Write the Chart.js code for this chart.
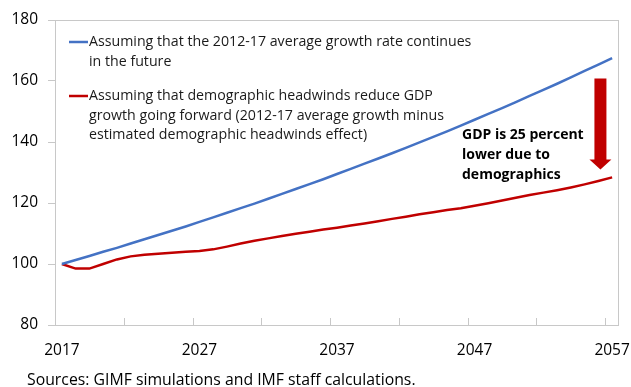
<!DOCTYPE html>
<html>
<head>
<meta charset="utf-8">
<script src="https://cdn.jsdelivr.net/npm/chart.js@4.4.0/dist/chart.umd.min.js"></script>
<style>
  html, body { margin: 0; padding: 0; background: #fff; }
  #wrap { width: 631px; height: 387px; }
</style>
</head>
<body>
<div id="wrap"><canvas id="gdpChart" width="631" height="387"></canvas></div>
<script>
const years = ['2017', '2018', '2019', '2020', '2021', '2022', '2023', '2024', '2025', '2026',
  '2027', '2028', '2029', '2030', '2031', '2032', '2033', '2034', '2035', '2036',
  '2037', '2038', '2039', '2040', '2041', '2042', '2043', '2044', '2045', '2046',
  '2047', '2048', '2049', '2050', '2051', '2052', '2053', '2054', '2055', '2056', '2057'];

// GDP index, 2017 = 100
const avgGrowth = [100.0, 101.3, 102.6, 104.0, 105.3, 106.7, 108.1, 109.5, 110.9, 112.3,
  113.8, 115.3, 116.8, 118.3, 119.8, 121.4, 123.0, 124.6, 126.2, 127.8,
  129.5, 131.2, 132.9, 134.6, 136.3, 138.1, 139.9, 141.7, 143.5, 145.4,
  147.3, 149.2, 151.1, 153.1, 155.1, 157.1, 159.1, 161.2, 163.3, 165.4, 167.5];

const demographic = [100.0, 98.5, 98.5, 100.0, 101.5, 102.5, 103.0, 103.4, 103.7, 104.0,
  104.3, 104.8, 105.7, 106.7, 107.6, 108.4, 109.2, 109.9, 110.6, 111.3,
  111.9, 112.6, 113.3, 114.0, 114.8, 115.5, 116.3, 117.0, 117.7, 118.3,
  119.1, 119.9, 120.8, 121.7, 122.6, 123.4, 124.2, 125.1, 126.1, 127.2, 128.4];

const yMin = 80, yMax = 180, yStep = 20;

const legendBlue = ['Assuming that the 2012-17 average growth rate continues', 'in the future'];
const legendRed = ['Assuming that demographic headwinds reduce GDP',
  'growth going forward (2012-17 average growth minus',
  'estimated demographic headwinds effect)'];
const noteLines = ['GDP is 25 percent', 'lower due to', 'demographics'];
const sourceNote = 'Sources: GIMF simulations and IMF staff calculations.';

const BLUE = '#4472C4';
const RED = '#C00000';
const AXIS = '#c8c8c8';
const FONT = '"Open Sans", "Noto Sans", sans-serif';

const decor = {
  id: 'decor',
  afterDraw(chart) {
    const { ctx, chartArea: a, scales: { x, y } } = chart;
    ctx.save();

    // frame + inward ticks between categories, every 5 years
    ctx.strokeStyle = AXIS;
    ctx.lineWidth = 1;
    ctx.strokeRect(Math.round(a.left) + 0.5, Math.round(a.top) + 0.5,
      Math.round(a.width) - 1, Math.round(a.height));
    const half = (x.getPixelForValue(1) - x.getPixelForValue(0)) / 2;
    ctx.beginPath();
    for (let i = 5; i < years.length; i += 5) {
      const px = Math.round(x.getPixelForValue(i) - half) + 0.5;
      ctx.moveTo(px, a.bottom);
      ctx.lineTo(px, a.bottom - 7);
    }
    ctx.stroke();

    // legend inside the plot
    ctx.font = '14.2px ' + FONT;
    ctx.fillStyle = '#1a1a1a';
    ctx.textBaseline = 'middle';
    ctx.textAlign = 'left';
    const drawItem = (lines, color, top) => {
      ctx.strokeStyle = color;
      ctx.lineWidth = 2.5;
      ctx.beginPath();
      ctx.moveTo(a.left + 14, top);
      ctx.lineTo(a.left + 33, top);
      ctx.stroke();
      lines.forEach((t, k) => ctx.fillText(t, a.left + 34, top + k * 19.5));
    };
    drawItem(legendBlue, BLUE, a.top + 22);
    drawItem(legendRed, RED, a.top + 76);

    // note and arrow
    ctx.font = 'bold 14px ' + FONT;
    ctx.fillStyle = '#000';
    noteLines.forEach((t, k) => ctx.fillText(t, 462, 135 + k * 20));

    const ax = x.getPixelForValue(39.15);
    const yTop = y.getPixelForValue(160.8);
    const yHead = y.getPixelForValue(134.3);
    const yTip = y.getPixelForValue(131);
    ctx.fillStyle = RED;
    ctx.beginPath();
    ctx.moveTo(ax - 6, yTop);
    ctx.lineTo(ax + 6, yTop);
    ctx.lineTo(ax + 6, yHead);
    ctx.lineTo(ax + 11, yHead);
    ctx.lineTo(ax, yTip);
    ctx.lineTo(ax - 11, yHead);
    ctx.lineTo(ax - 6, yHead);
    ctx.closePath();
    ctx.fill();

    // source line
    ctx.font = '15.8px ' + FONT;
    ctx.fillStyle = '#000';
    ctx.fillText(sourceNote, 27, 380);
    ctx.restore();
  }
};

new Chart(document.getElementById('gdpChart'), {
  type: 'line',
  data: {
    labels: years,
    datasets: [{
      label: legendBlue.join(' '),
      data: avgGrowth,
      borderColor: BLUE,
      borderWidth: 2.5,
      pointRadius: 0,
      tension: 0
    }, {
      label: legendRed.join(' '),
      data: demographic,
      borderColor: RED,
      borderWidth: 2.5,
      pointRadius: 0,
      tension: 0
    }]
  },
  options: {
    responsive: false,
    animation: false,
    devicePixelRatio: 1,
    layout: { padding: { top: 20, right: 12, left: 0, bottom: 0 } },
    plugins: {
      legend: { display: false },
      tooltip: { enabled: false }
    },
    scales: {
      x: {
        type: 'category',
        offset: true,
        grid: { display: false, drawTicks: false },
        border: { display: false },
        ticks: {
          autoSkip: false,
          maxRotation: 0,
          minRotation: 0,
          padding: 16,
          color: '#000',
          font: { family: FONT, size: 15.5 },
          callback: (v, i) => (i % 10 === 0 ? years[i] : '')
        },
        afterFit: s => {
          s.height = 62;
          s.paddingLeft = 0;
          s.paddingRight = 0;
        }
      },
      y: {
        min: yMin,
        max: yMax,
        grid: { drawOnChartArea: false, drawTicks: true, tickLength: 7, color: AXIS },
        border: { display: true, color: AXIS },
        ticks: {
          stepSize: yStep,
          padding: 10,
          color: '#000',
          font: { family: FONT, size: 15.5 }
        },
        afterFit: s => { s.width = 55; }
      }
    }
  },
  plugins: [decor]
});
</script>
</body>
</html>
